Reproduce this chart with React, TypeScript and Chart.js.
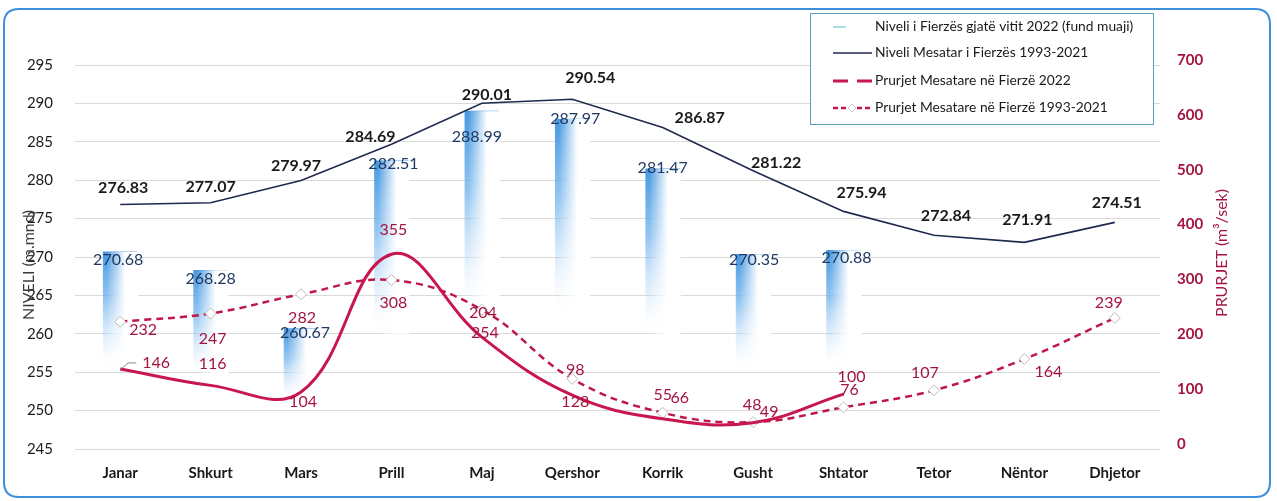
import React, { useEffect, useRef } from "react";
import { Chart, registerables } from "chart.js";

Chart.register(...registerables);

// ---------- DATA ----------
const months = ["Janar", "Shkurt", "Mars", "Prill", "Maj", "Qershor", "Korrik", "Gusht", "Shtator", "Tetor", "Nëntor", "Dhjetor"];
const level2022 = [270.68, 268.28, 260.67, 282.51, 288.99, 287.97, 281.47, 270.35, 270.88, null, null, null];
const levelMean = [276.83, 277.07, 279.97, 284.69, 290.01, 290.54, 286.87, 281.22, 275.94, 272.84, 271.91, 274.51];
const flow2022 = [146, 116, 104, 355, 204, 98, 55, 48, 100, null, null, null];
const flowMean = [232, 247, 282, 308, 254, 128, 66, 49, 76, 107, 164, 239];

const levelAxis = { min: 245, max: 295, step: 5 };
const flowAxis = { min: 0, max: 700, step: 100 };

const seriesNames = [
  "Niveli i Fierzës gjatë vitit 2022 (fund muaji)",
  "Niveli Mesatar i Fierzës 1993-2021",
  "Prurjet Mesatare në Fierzë 2022",
  "Prurjet Mesatare në Fierzë 1993-2021",
];
const leftTitle = "NIVELI (m.mnd)";
const rightTitle = "PRURJET (m³/sek)";

// ---------- STYLE (label nudges, px) ----------
const barLabelNudge = [[-2, 8], [0, 9], [4, 4], [2, 3], [-5, 26], [3, 0], [0, -1], [1, 6], [3, 8]];
const meanLabelNudge = [[3, -17], [0, -16], [-5, -15], [-21, -7], [5, -8], [18, -21], [37, -10], [23, -8], [18, -19], [12, -19], [3, -22], [2, -20]];
const flowLabelNudge = [[36, -6], [2, -22], [2, 10], [2, -24], [1, -24], [3, -25], [0, -24], [-1, -18], [8, -17]];
const flowMeanLabelNudge = [[23, 8], [2, 25], [1, 24], [2, 23], [3, 23], [3, 23], [17, -15], [16, -10], [6, -17], [-9, -17], [24, 13], [-6, -15]];

const FONT = 'Lato, "Open Sans", sans-serif';
const NAVY = "#1f2a4f";
const RED = "#c8174e";
const RED_DASH = "#c0174a";
const RED_TEXT = "#a3153f";
const BAR_BLUE = "#4a9be0";
const BAR_FADE = 0.6;

function fmt(v: number, dec: number) {
  return dec > 0 ? v.toFixed(dec) : String(v);
}

function ok(...vals: number[]) {
  return vals.every((v) => typeof v === "number" && isFinite(v));
}

function drawLabels(chart: any, dsIndex: number, values: (number | null)[], nudges: number[][], font: string, color: string, dec: number) {
  const meta = chart.getDatasetMeta(dsIndex);
  const ctx = chart.ctx;
  ctx.save();
  ctx.font = font;
  ctx.fillStyle = color;
  ctx.textAlign = "center";
  ctx.textBaseline = "middle";
  meta.data.forEach((el: any, i: number) => {
    const v = values[i];
    if (v === null || v === undefined) return;
    if (!ok(el.x, el.y)) return;
    const n = nudges[i] || [0, 0];
    ctx.fillText(fmt(v, dec), el.x + n[0], el.y + n[1]);
  });
  ctx.restore();
}

const decorPlugin = {
  id: "decor",
  beforeDraw(chart: any) {
    const ctx = chart.ctx;
    ctx.save();
    ctx.fillStyle = "#ffffff";
    ctx.fillRect(0, 0, chart.width, chart.height);
    ctx.restore();
  },
  afterDatasetDraw(chart: any, args: any) {
    if (args.index !== 0) return;
    const ctx = chart.ctx;
    const bottom = chart.chartArea.bottom;
    ctx.save();
    args.meta.data.forEach((el: any, i: number) => {
      if (level2022[i] === null) return;
      const { x, y, width } = el.getProps(["x", "y", "width"], true);
      if (!ok(x, y, width)) return;
      const left = x - width / 2;
      const g = ctx.createLinearGradient(left, 0, left + width, 0);
      g.addColorStop(0, "rgba(255,255,255,0)");
      g.addColorStop(0.1, "rgba(255,255,255,0)");
      g.addColorStop(0.65, "rgba(255,255,255,1)");
      g.addColorStop(1, "rgba(255,255,255,1)");
      ctx.fillStyle = g;
      ctx.fillRect(left, y, width + 1, (bottom - y) * BAR_FADE);
    });
    ctx.restore();
  },
  afterDatasetsDraw(chart: any) {
    const m2 = chart.getDatasetMeta(2);
    const p = m2.data[0];
    if (p && ok(p.x, p.y)) {
      const ctx = chart.ctx;
      ctx.save();
      ctx.strokeStyle = "#8a8a8a";
      ctx.lineWidth = 1;
      ctx.beginPath();
      ctx.moveTo(p.x + 1, p.y);
      ctx.lineTo(p.x + 8, p.y - 6);
      ctx.lineTo(p.x + 16, p.y - 6);
      ctx.stroke();
      ctx.restore();
    }
    drawLabels(chart, 0, level2022, barLabelNudge, `16px ${FONT}`, "#1f3864", 2);
    drawLabels(chart, 1, levelMean, meanLabelNudge, `bold 16px ${FONT}`, "#1a1a1a", 2);
    drawLabels(chart, 2, flow2022, flowLabelNudge, `16px ${FONT}`, RED_TEXT, 0);
    drawLabels(chart, 3, flowMean, flowMeanLabelNudge, `16px ${FONT}`, RED_TEXT, 0);
  },
  afterDraw(chart: any) {
    const ctx = chart.ctx;
    ctx.save();
    const fx = 4, fy = 9, fw = 1266, fh = 488, r = 15;
    ctx.beginPath();
    ctx.moveTo(fx + r, fy);
    ctx.lineTo(fx + fw - r, fy);
    ctx.quadraticCurveTo(fx + fw, fy, fx + fw, fy + r);
    ctx.lineTo(fx + fw, fy + fh - r);
    ctx.quadraticCurveTo(fx + fw, fy + fh, fx + fw - r, fy + fh);
    ctx.lineTo(fx + r, fy + fh);
    ctx.quadraticCurveTo(fx, fy + fh, fx, fy + fh - r);
    ctx.lineTo(fx, fy + r);
    ctx.quadraticCurveTo(fx, fy, fx + r, fy);
    ctx.closePath();
    ctx.strokeStyle = "#3d8fdb";
    ctx.lineWidth = 2;
    ctx.stroke();

    ctx.textAlign = "center";
    ctx.textBaseline = "middle";
    ctx.save();
    ctx.translate(29, 265);
    ctx.rotate(-Math.PI / 2);
    ctx.font = `16px ${FONT}`;
    ctx.fillStyle = "#3a3a3a";
    ctx.fillText(leftTitle, 0, 0);
    ctx.restore();
    ctx.save();
    ctx.translate(1222, 253);
    ctx.rotate(-Math.PI / 2);
    ctx.font = `16px ${FONT}`;
    ctx.fillStyle = RED_TEXT;
    ctx.fillText(rightTitle, 0, 0);
    ctx.restore();

    const lx = 810, ly = 13, lw = 343, lh = 111;
    ctx.fillStyle = "#ffffff";
    ctx.fillRect(lx, ly, lw, lh);
    ctx.strokeStyle = "#5a9fb8";
    ctx.lineWidth = 1;
    ctx.strokeRect(lx + 0.5, ly + 0.5, lw, lh);
    const rows = [27, 53, 81, 108];
    const sx0 = 833, sx1 = 872;
    ctx.lineCap = "butt";
    ctx.strokeStyle = "#a8dde3";
    ctx.lineWidth = 2;
    ctx.beginPath(); ctx.moveTo(833, rows[0]); ctx.lineTo(846, rows[0]); ctx.stroke();
    ctx.strokeStyle = NAVY;
    ctx.lineWidth = 1.6;
    ctx.beginPath(); ctx.moveTo(sx0, rows[1]); ctx.lineTo(sx1, rows[1]); ctx.stroke();
    ctx.strokeStyle = RED;
    ctx.lineWidth = 3;
    ctx.beginPath(); ctx.moveTo(833, rows[2]); ctx.lineTo(848, rows[2]); ctx.moveTo(857, rows[2]); ctx.lineTo(sx1, rows[2]); ctx.stroke();
    ctx.strokeStyle = RED_DASH;
    ctx.lineWidth = 2.5;
    ctx.setLineDash([5, 3]);
    ctx.beginPath(); ctx.moveTo(sx0, rows[3]); ctx.lineTo(sx1, rows[3]); ctx.stroke();
    ctx.setLineDash([]);
    ctx.beginPath();
    ctx.moveTo(852, rows[3] - 4); ctx.lineTo(856, rows[3]); ctx.lineTo(852, rows[3] + 4); ctx.lineTo(848, rows[3]); ctx.closePath();
    ctx.fillStyle = "#ffffff"; ctx.fill();
    ctx.strokeStyle = "#c8c8c8"; ctx.lineWidth = 1; ctx.stroke();
    ctx.font = `13.8px ${FONT}`;
    ctx.fillStyle = "#1a1a1a";
    ctx.textAlign = "left";
    ctx.textBaseline = "middle";
    seriesNames.forEach((t, i) => ctx.fillText(t, 875, rows[i]));
    ctx.restore();
  },
};

export default function App() {
  const ref = useRef<HTMLCanvasElement>(null);
  useEffect(() => {
    document.body.style.margin = "0";
    Chart.defaults.font.family = FONT;
    const chart = new Chart(ref.current as HTMLCanvasElement, {
      type: "bar",
      data: {
        labels: months,
        datasets: [
          {
            type: "bar",
            label: seriesNames[0],
            data: level2022 as any,
            yAxisID: "y",
            order: 10,
            barThickness: 34,
            borderWidth: 0,
            backgroundColor: (c: any) => {
              const chart = c.chart;
              const ys = chart.scales && chart.scales.y;
              if (!ys || !c.parsed || c.parsed.y == null) return BAR_BLUE;
              const top = ys.getPixelForValue(c.parsed.y);
              const base = ys.getPixelForValue(levelAxis.min);
              if (!ok(top, base) || base <= top) return BAR_BLUE;
              const g = chart.ctx.createLinearGradient(0, top, 0, top + (base - top) * BAR_FADE);
              g.addColorStop(0, "rgba(70,152,224,1)");
              g.addColorStop(0.4, "rgba(110,178,236,0.75)");
              g.addColorStop(0.75, "rgba(170,210,245,0.3)");
              g.addColorStop(1, "rgba(255,255,255,0)");
              return g;
            },
          } as any,
          {
            type: "line",
            label: seriesNames[1],
            data: levelMean,
            yAxisID: "y",
            order: 3,
            borderColor: NAVY,
            borderWidth: 1.6,
            pointRadius: 0,
            tension: 0,
          },
          {
            type: "line",
            label: seriesNames[2],
            data: flow2022 as any,
            yAxisID: "y1",
            order: 1,
            borderColor: RED,
            borderWidth: 3,
            pointRadius: 0,
            tension: 0.4,
          },
          {
            type: "line",
            label: seriesNames[3],
            data: flowMean,
            yAxisID: "y1",
            order: 2,
            borderColor: RED_DASH,
            borderWidth: 2.5,
            borderDash: [7, 5],
            pointStyle: "rectRot",
            pointRadius: 5.5,
            pointBackgroundColor: "#ffffff",
            pointBorderColor: "#bdbdbd",
            pointBorderWidth: 1,
            tension: 0.4,
          },
        ],
      },
      options: {
        responsive: false,
        animation: false,
        layout: { padding: { top: 65, left: 0, right: 0, bottom: 0 } },
        plugins: { legend: { display: false }, tooltip: { enabled: false } },
        scales: {
          x: {
            grid: { display: false, drawTicks: false },
            border: { display: false },
            ticks: { font: { size: 15, weight: "bold" }, color: "#1a1a1a", padding: 15 },
            afterFit: (s: any) => { s.height = 52; },
          },
          y: {
            position: "left",
            min: levelAxis.min,
            max: levelAxis.max,
            ticks: { stepSize: levelAxis.step, font: { size: 15 }, color: "#1a1a1a", padding: 22 },
            grid: { color: "#d9d9d9", drawTicks: false },
            border: { display: false },
            afterFit: (s: any) => { s.width = 75; },
          },
          y1: {
            position: "right",
            min: flowAxis.min,
            max: flowAxis.max,
            ticks: { stepSize: flowAxis.step, font: { size: 15, weight: "bold" }, color: RED_TEXT, padding: 17, labelOffset: -5 },
            grid: { display: false, drawTicks: false },
            border: { display: false },
            afterFit: (s: any) => { s.width = 117; },
          },
        },
      } as any,
      plugins: [decorPlugin],
    });
    return () => chart.destroy();
  }, []);
  return (
    <div style={{ width: 1277, height: 501, overflow: "hidden" }}>
      <canvas ref={ref} width={1277} height={501} style={{ display: "block" }} />
    </div>
  );
}
